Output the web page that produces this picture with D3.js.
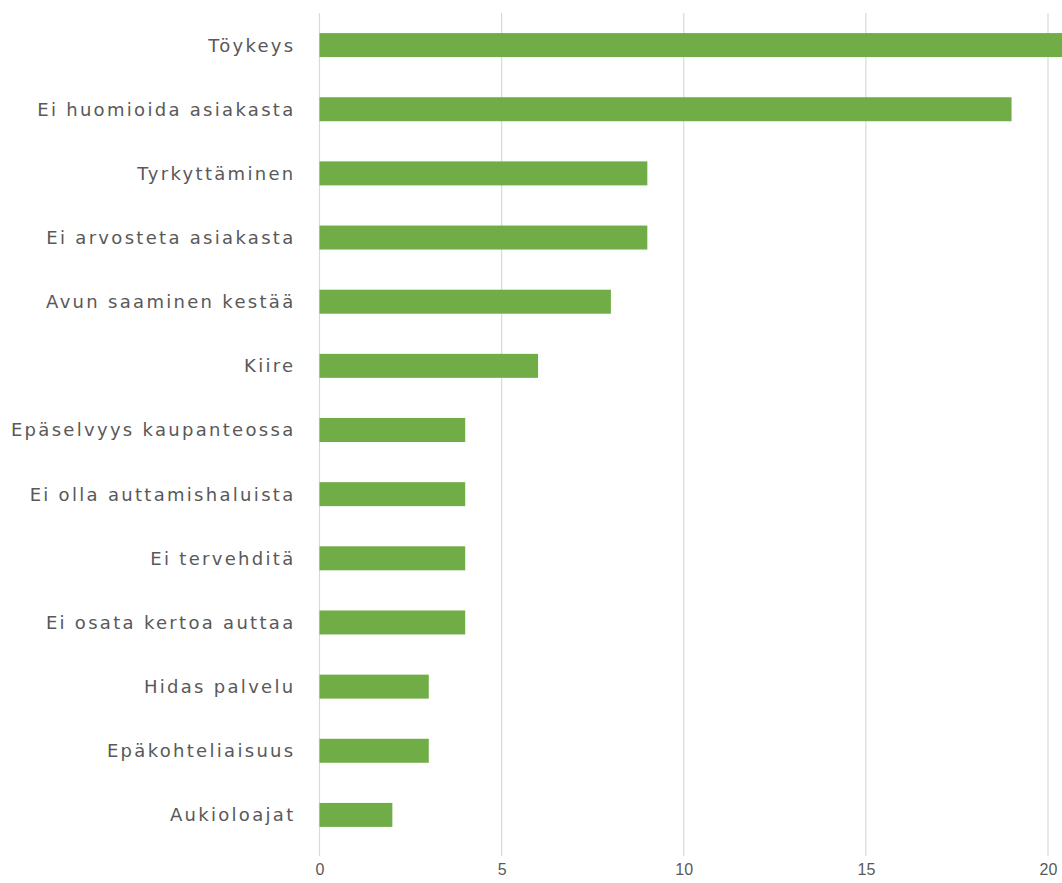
<!DOCTYPE html>
<html>
<head>
<meta charset="utf-8">
<script src="https://cdn.jsdelivr.net/npm/d3@7"></script>
<style>
  html, body { margin: 0; padding: 0; background: #fff; overflow: hidden; }
  svg { display: block; }
</style>
</head>
<body>
<div id="chart"></div>
<script>
// Reasons for poor customer service (counts)
const categories = [
  "Töykeys",
  "Ei huomioida asiakasta",
  "Tyrkyttäminen",
  "Ei arvosteta asiakasta",
  "Avun saaminen kestää",
  "Kiire",
  "Epäselvyys kaupanteossa",
  "Ei olla auttamishaluista",
  "Ei tervehditä",
  "Ei osata kertoa auttaa",
  "Hidas palvelu",
  "Epäkohteliaisuus",
  "Aukioloajat"
];
const values = [21, 19, 9, 9, 8, 6, 4, 4, 4, 4, 3, 3, 2];
const tickValues = [0, 5, 10, 15, 20];

const width = 1062, height = 883;
const x0 = 319.5, x20 = 1048;

const svg = d3.select("#chart").append("svg")
  .attr("width", width).attr("height", height);

const x = d3.scaleLinear().domain([0, 20]).range([x0, x20]);
const y = d3.scaleBand().domain(categories).range([13, 847]).paddingInner(0.626).paddingOuter(0.313);

// vertical gridlines
svg.append("g").selectAll("line").data(tickValues).join("line")
  .attr("x1", d => x(d)).attr("x2", d => x(d))
  .attr("y1", 13).attr("y2", 856)
  .attr("stroke", "#d9d9d9").attr("stroke-width", 1.2);

// bars
svg.append("g").selectAll("rect").data(values).join("rect")
  .attr("x", x(0))
  .attr("y", (d, i) => y(categories[i]))
  .attr("width", d => x(d) - x(0))
  .attr("height", y.bandwidth())
  .attr("fill", "#70ad47");

// category labels
svg.append("g").selectAll("text").data(categories).join("text")
  .attr("x", 295.5)
  .attr("y", d => y(d) + y.bandwidth() / 2)
  .attr("dy", "0.36em")
  .attr("text-anchor", "end")
  .attr("font-family", "'DejaVu Sans', sans-serif")
  .attr("font-size", 18)
  .attr("letter-spacing", 2.3)
  .attr("fill", "#595959")
  .text(d => d);

// x axis tick labels
const xAxis = d3.axisBottom(x).tickValues(tickValues).tickSize(0).tickPadding(0);
const ax = svg.append("g").attr("transform", "translate(0,864)").call(xAxis);
ax.select(".domain").remove();
ax.selectAll("text")
  .attr("font-family", "'Liberation Sans Narrow', 'Liberation Sans', sans-serif")
  .attr("font-size", 16)
  .attr("fill", "#595959");
</script>
</body>
</html>
